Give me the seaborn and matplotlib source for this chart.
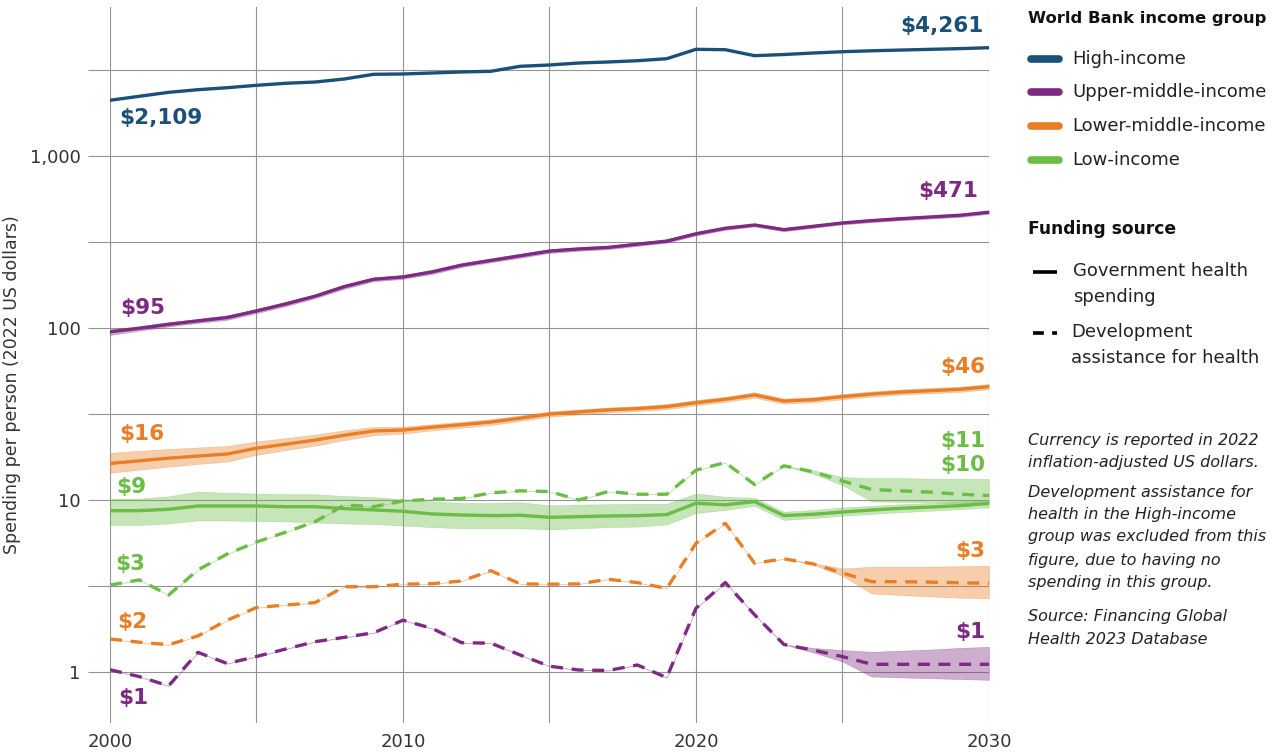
import matplotlib
matplotlib.use("Agg")
import matplotlib.pyplot as plt
import seaborn as sns
import pandas as pd
from matplotlib.lines import Line2D
from matplotlib.ticker import FixedLocator, FixedFormatter, NullFormatter

# ---------------- data ----------------
years = list(range(2000, 2031))

high_gov = [2109, 2224, 2345, 2429, 2495, 2576, 2647, 2692, 2804, 2986, 2998,
            3039, 3080, 3108, 3323, 3381, 3473, 3520, 3581, 3678, 4171,
            4150, 3830, 3890, 3970, 4040, 4090, 4131, 4170, 4210, 4261]
upper_gov = [95, 99.6, 105, 110, 115, 125.6, 138, 153, 174, 192, 198,
             212, 232, 247, 263, 280, 288, 294, 307, 320, 353,
             380, 397, 373, 390, 408, 421, 432, 442, 452, 471]
lower_gov = [16.3, 16.9, 17.5, 18.0, 18.5, 20.0, 21.1, 22.3, 23.8, 25.2, 25.5,
             26.5, 27.4, 28.4, 29.9, 31.6, 32.5, 33.4, 34.0, 34.9, 36.8,
             38.5, 40.8, 37.6, 38.3, 39.9, 41.3, 42.4, 43.2, 44.0, 45.6]
low_gov = [8.67, 8.67, 8.83, 9.23, 9.23, 9.23, 9.14, 9.14, 8.91, 8.75, 8.60,
           8.29, 8.18, 8.11, 8.15, 7.93, 8.00, 8.07, 8.11, 8.22, 9.57,
           9.38, 9.78, 8.11, 8.26, 8.51, 8.75, 8.95, 9.10, 9.27, 9.55]

upper_dah = [1.03, 0.94, 0.83, 1.30, 1.12, 1.23, 1.36, 1.50, 1.59, 1.69, 2.00,
             1.79, 1.48, 1.47, 1.255, 1.08, 1.027, 1.02, 1.098, 0.927, 2.35,
             3.31, 2.15, 1.445, 1.34, 1.228, 1.108, 1.108, 1.108, 1.108, 1.108]
lower_dah = [1.555, 1.49, 1.44, 1.62, 2.00, 2.37, 2.45, 2.53, 3.13, 3.13, 3.24,
             3.26, 3.38, 3.88, 3.25, 3.24, 3.25, 3.46, 3.31, 3.06, 5.60,
             7.32, 4.29, 4.55, 4.25, 3.76, 3.35, 3.35, 3.33, 3.30, 3.28]
low_dah = [3.20, 3.43, 2.80, 3.92, 4.85, 5.70, 6.50, 7.48, 9.35, 9.14, 9.87,
           10.1, 10.2, 11.0, 11.3, 11.2, 10.0, 11.2, 10.8, 10.8, 14.9,
           16.5, 12.3, 15.8, 14.6, 12.9, 11.5, 11.3, 11.1, 10.8, 10.6]

# uncertainty bands (upper / lower bounds)
upper_gov_hi = [98, 102.5, 108, 113, 118.5, 129, 142, 157, 179, 197, 203,
                218, 238, 254, 270, 287, 295, 301, 314, 327, 361,
                388, 405, 381, 398, 416, 430, 441, 451, 462, 481]
upper_gov_lo = [91, 96.5, 102, 107, 111.5, 122, 134, 149, 169, 187, 193,
                206, 226, 241, 256, 273, 281, 287, 300, 313, 345,
                372, 389, 365, 382, 400, 412, 423, 433, 442, 461]
lower_gov_hi = [18.8, 19.3, 19.8, 20.2, 20.6, 21.9, 22.9, 24.0, 25.4, 26.6, 26.7,
                27.6, 28.5, 29.5, 31.0, 32.7, 33.6, 34.5, 35.1, 36.1, 38.1,
                39.8, 42.3, 38.9, 39.6, 41.3, 42.8, 43.9, 44.8, 45.6, 47.2]
lower_gov_lo = [14.4, 15.0, 15.6, 16.2, 16.7, 18.3, 19.5, 20.7, 22.3, 23.8, 24.3,
                25.4, 26.3, 27.3, 28.8, 30.5, 31.4, 32.3, 32.9, 33.7, 35.5,
                37.2, 39.3, 36.3, 37.0, 38.5, 39.9, 41.0, 41.7, 42.5, 44.0]
low_gov_hi = [10.2, 10.2, 10.5, 11.2, 11.0, 10.9, 10.8, 10.8, 10.55, 10.4, 10.1,
              9.8, 9.6, 9.6, 9.7, 9.3, 9.4, 9.45, 9.5, 9.5, 10.9,
              10.45, 10.3, 8.55, 8.75, 9.05, 9.25, 9.45, 9.6, 9.8, 10.0]
low_gov_lo = [7.15, 7.15, 7.3, 7.6, 7.6, 7.55, 7.5, 7.4, 7.3, 7.25, 7.1,
              6.95, 6.85, 6.85, 6.85, 6.75, 6.85, 6.95, 7.0, 7.2, 8.4,
              8.75, 9.25, 7.65, 7.85, 8.1, 8.3, 8.5, 8.65, 8.85, 9.05]
# development assistance projections widen from 2023 on (2024-2030 bounds)
upper_dah_hi = upper_dah[:24] + [1.38, 1.34, 1.31, 1.33, 1.35, 1.38, 1.40]
upper_dah_lo = upper_dah[:24] + [1.30, 1.15, 0.94, 0.93, 0.92, 0.91, 0.90]
lower_dah_hi = lower_dah[:24] + [4.30, 4.00, 4.09, 4.10, 4.10, 4.12, 4.15]
lower_dah_lo = lower_dah[:24] + [4.20, 3.62, 2.86, 2.80, 2.75, 2.70, 2.68]
low_dah_hi = low_dah[:24] + [14.9, 13.6, 13.4, 13.4, 13.3, 13.3, 13.25]
low_dah_lo = low_dah[:24] + [14.2, 12.2, 9.8, 9.75, 9.7, 9.6, 9.57]

groups = ["High-income", "Upper-middle-income", "Lower-middle-income", "Low-income"]
sources = ["Government health spending", "Development assistance for health"]
colors = {"High-income": "#1B5079", "Upper-middle-income": "#7D2B82",
          "Lower-middle-income": "#E87E26", "Low-income": "#6BBD45"}

series = [
    ("High-income", sources[0], high_gov, None, None),
    ("Upper-middle-income", sources[0], upper_gov, upper_gov_hi, upper_gov_lo),
    ("Lower-middle-income", sources[0], lower_gov, lower_gov_hi, lower_gov_lo),
    ("Low-income", sources[0], low_gov, low_gov_hi, low_gov_lo),
    ("Upper-middle-income", sources[1], upper_dah, upper_dah_hi, upper_dah_lo),
    ("Lower-middle-income", sources[1], lower_dah, lower_dah_hi, lower_dah_lo),
    ("Low-income", sources[1], low_dah, low_dah_hi, low_dah_lo),
]

rows = []
for g, s, vals, _, _ in series:
    for y, v in zip(years, vals):
        rows.append({"year": y, "value": v, "group": g, "source": s})
df = pd.DataFrame(rows)

# ---------------- figure ----------------
W, H = 1279, 753
fig = plt.figure(figsize=(W / 100, H / 100), dpi=100)
ax = fig.add_axes([110 / W, (H - 723) / H, 879 / W, 716 / H])

for g, s, vals, hi, lo in series:
    if hi is None:
        continue
    ax.fill_between(years, lo, hi, facecolor=colors[g], alpha=0.38,
                    edgecolor=colors[g], linewidth=0.4, zorder=2)

sns.lineplot(data=df, x="year", y="value", hue="group", style="source",
             hue_order=groups, style_order=sources, palette=colors,
             dashes={sources[0]: "", sources[1]: (3.6, 2.6)},
             linewidth=2.4, legend=False, ax=ax, zorder=3)

ax.set_yscale("log")
ax.set_xlim(2000, 2030)
ax.set_ylim(0.505, 7350)

grid_c = "#939393"
ax.xaxis.set_major_locator(FixedLocator([2000, 2010, 2020, 2030]))
ax.xaxis.set_minor_locator(FixedLocator([2005, 2015, 2025]))
ax.yaxis.set_major_locator(FixedLocator([1, 10, 100, 1000]))
ax.yaxis.set_major_formatter(FixedFormatter(["1", "10", "100", "1,000"]))
ax.yaxis.set_minor_locator(FixedLocator([3.1623, 31.623, 316.23, 3162.3]))
ax.yaxis.set_minor_formatter(NullFormatter())
ax.grid(True, which="both", color=grid_c, linewidth=0.8)
ax.set_axisbelow(True)
for sp in ax.spines.values():
    sp.set_visible(False)
ax.tick_params(axis="x", which="both", length=0, pad=7, labelsize=13, labelcolor="#333333")
ax.tick_params(axis="y", which="both", length=16, width=0.8, color=grid_c,
               pad=5, labelsize=13, labelcolor="#333333")
ax.set_xlabel("")
ax.set_ylabel("")

fig.text(12 / W, 1 - 385 / H, "Spending per person (2022 US dollars)",
         rotation=90, ha="center", va="center", fontsize=12.5, color="#333333")

# ---------------- value labels ----------------
labels = [
    ("$2,109", "High-income", 2000, high_gov[0], 9, -18, "left"),
    ("$4,261", "High-income", 2030, high_gov[-1], -5, 22, "right"),
    ("$95", "Upper-middle-income", 2000, upper_gov[0], 10, 24, "left"),
    ("$471", "Upper-middle-income", 2030, upper_gov[-1], -11, 21, "right"),
    ("$16", "Lower-middle-income", 2000, lower_gov[0], 9, 29, "left"),
    ("$46", "Lower-middle-income", 2030, lower_gov[-1], -4, 20, "right"),
    ("$9", "Low-income", 2000, low_gov[0], 6, 24, "left"),
    ("$11", "Low-income", 2030, low_dah[-1], -4, 55, "right"),
    ("$10", "Low-income", 2030, low_gov[-1], -4, 38, "right"),
    ("$3", "Low-income", 2000, low_dah[0], 5, 21, "left"),
    ("$2", "Lower-middle-income", 2000, lower_dah[0], 7, 17, "left"),
    ("$1", "Upper-middle-income", 2000, upper_dah[0], 8, -28, "left"),
    ("$3", "Lower-middle-income", 2030, lower_dah[-1], -4, 32, "right"),
    ("$1", "Upper-middle-income", 2030, upper_dah[-1], -4, 32, "right"),
]
for txt, g, x, y, dx, dy, ha in labels:
    ax.annotate(txt, xy=(x, y), xytext=(dx, dy), textcoords="offset pixels",
                ha=ha, va="center", fontsize=15.5, fontweight="bold",
                color=colors[g], zorder=5, annotation_clip=False)

# ---------------- legend ----------------
def fx(px):
    return px / W

def fy(py):
    return 1 - py / H

fig.text(fx(1028), fy(18), "World Bank income group", fontsize=11.8,
         fontweight="bold", ha="left", va="center", color="#111111")
for i, g in enumerate(groups):
    yy = [59, 92, 126, 160][i]
    fig.add_artist(Line2D([fx(1031), fx(1059)], [fy(yy), fy(yy)],
                          color=colors[g], lw=5.5, solid_capstyle="round"))
    fig.text(fx(1072), fy(yy), g, fontsize=13, ha="left", va="center", color="#222222")

fig.text(fx(1028), fy(229), "Funding source", fontsize=12.3,
         fontweight="bold", ha="left", va="center", color="#111111")
fig.add_artist(Line2D([fx(1033), fx(1057)], [fy(272), fy(272)], color="black",
                      lw=2.6, solid_capstyle="butt"))
fig.text(fx(1073), fy(271), "Government health", fontsize=13, ha="left", va="center", color="#222222")
fig.text(fx(1073), fy(297), "spending", fontsize=13, ha="left", va="center", color="#222222")
fig.add_artist(Line2D([fx(1033), fx(1057)], [fy(333), fy(333)], color="black",
                      lw=2.6, linestyle=(0, (3.0, 2.3))))
fig.text(fx(1071), fy(332), "Development", fontsize=13, ha="left", va="center", color="#222222")
fig.text(fx(1071), fy(358), "assistance for health", fontsize=13, ha="left", va="center", color="#222222")

notes = [
    (440, "Currency is reported in 2022"),
    (463, "inflation-adjusted US dollars."),
    (492, "Development assistance for"),
    (515, "health in the High-income"),
    (537, "group was excluded from this"),
    (560, "figure, due to having no"),
    (582, "spending in this group."),
    (617, "Source: Financing Global"),
    (640, "Health 2023 Database"),
]
for yy, t in notes:
    fig.text(fx(1028), fy(yy), t, fontsize=11.5, style="italic",
             ha="left", va="center", color="#222222")

fig.savefig("out.png", dpi=100)
